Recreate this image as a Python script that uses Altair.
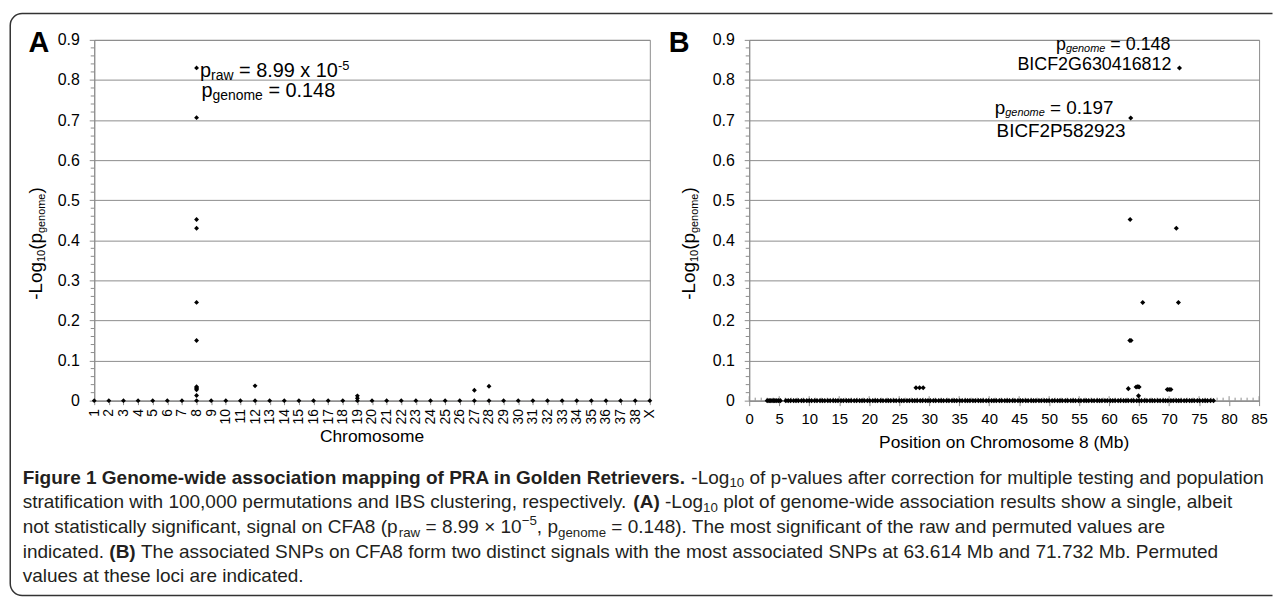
import altair as alt
import pandas as pd

# ---------------- data ----------------
CHROMOSOMES = ["1", "2", "3", "4", "5", "6", "7", "8", "9", "10", "11", "12", "13", "14", "15",
               "16", "17", "18", "19", "20", "21", "22", "23", "24", "25", "26", "27", "28", "29",
               "30", "31", "32", "33", "34", "35", "36", "37", "38", "X"]
A_ZERO_VAL = 0.0
A_HIT_CHR = ["8", "8", "8", "8", "8", "8", "8", "8", "8", "8", "8", "12", "19", "19", "27", "28"]
A_HIT_VAL = [0.830, 0.706, 0.452, 0.430, 0.245, 0.150, 0.035, 0.032, 0.030, 0.027, 0.013,
             0.037, 0.012, 0.006, 0.026, 0.036]

B_ZERO_POS = [3.0, 3.3, 3.5, 3.8, 4.1, 4.3, 4.6, 4.9, 5.2,
              6.1, 6.5, 6.9, 7.4, 7.8, 8.2, 8.7, 9.1, 9.6, 10.0, 10.4, 10.9, 11.3, 11.8, 12.2,
              12.6, 13.1, 13.5, 14.0, 14.4, 14.8, 15.3, 15.7, 16.2, 16.6, 17.0, 17.5, 17.9, 18.4,
              18.8, 19.2, 19.7, 20.1, 20.6, 21.0, 21.4, 21.9, 22.3, 22.8, 23.2, 23.6, 24.1, 24.5,
              25.0, 25.4, 25.8, 26.3, 26.7, 27.2, 27.6, 28.0, 28.5, 28.9, 29.4, 29.8, 30.2, 30.7,
              31.1, 31.6, 32.0, 32.4, 32.9, 33.3, 33.8, 34.2, 34.6, 35.1, 35.5, 36.0, 36.4, 36.8,
              37.3, 37.7, 38.2, 38.6, 39.0, 39.5, 39.9, 40.4, 40.8, 41.2, 41.7, 42.1, 42.6, 43.0,
              43.4, 43.9, 44.3, 44.8, 45.2, 45.6, 46.1, 46.5, 47.0, 47.4, 47.8, 48.3, 48.7, 49.2,
              49.6, 50.0, 50.5, 50.9, 51.4, 51.8, 52.2, 52.7, 53.1, 53.6, 54.0, 54.4, 54.9, 55.3,
              55.8, 56.2, 56.6, 57.1, 57.5, 58.0, 58.4, 58.8, 59.3, 59.7, 60.2, 60.6, 61.0, 61.5,
              61.9, 62.4, 62.8, 63.2, 63.7, 64.1, 64.6, 65.0, 65.4, 65.9, 66.3, 66.8, 67.2, 67.6,
              68.1, 68.5, 69.0, 69.4, 69.8, 70.3, 70.7, 71.2, 71.6, 72.0, 72.5, 72.9, 73.4, 73.8,
              74.2, 74.7, 75.1, 75.6, 76.0, 76.4, 76.9, 77.4]
B_ZERO_VAL = 0.0
B_HIT_POS = [27.8, 28.4, 29.0, 63.2, 63.45, 63.65, 63.5, 63.6, 64.5, 64.8, 65.0, 64.9, 65.6,
             69.7, 70.0, 70.3, 71.2, 71.55, 71.73]
B_HIT_VAL = [0.032, 0.032, 0.032, 0.030, 0.150, 0.150, 0.452, 0.705, 0.034, 0.035, 0.034, 0.012,
             0.245, 0.028, 0.028, 0.028, 0.430, 0.245, 0.830]

Y_MAJOR = [0, 0.1, 0.2, 0.3, 0.4, 0.5, 0.6, 0.7, 0.8, 0.9]
Y_MINOR = [0.02, 0.04, 0.06, 0.08, 0.12, 0.14, 0.16, 0.18, 0.22, 0.24, 0.26, 0.28, 0.32, 0.34,
           0.36, 0.38, 0.42, 0.44, 0.46, 0.48, 0.52, 0.54, 0.56, 0.58, 0.62, 0.64, 0.66, 0.68,
           0.72, 0.74, 0.76, 0.78, 0.82, 0.84, 0.86, 0.88]
B_X_MAJOR = [0, 5, 10, 15, 20, 25, 30, 35, 40, 45, 50, 55, 60, 65, 70, 75, 80, 85]
B_X_MINOR = [1, 2, 3, 4, 6, 7, 8, 9, 11, 12, 13, 14, 16, 17, 18, 19, 21, 22, 23, 24, 26, 27, 28,
             29, 31, 32, 33, 34, 36, 37, 38, 39, 41, 42, 43, 44, 46, 47, 48, 49, 51, 52, 53, 54,
             56, 57, 58, 59, 61, 62, 63, 64, 66, 67, 68, 69, 71, 72, 73, 74, 76, 77, 78, 79, 81,
             82, 83, 84]

A_ANNOT_ANCHOR = ("8", 0.830)
B_ANNOT1_ANCHOR = (71.73, 0.830)
B_ANNOT2_ANCHOR = (63.6, 0.705)
B_SNP1 = "BICF2G630416812"
B_SNP2 = "BICF2P582923"

# ---------------- layout (screen pixels of the reference) ----------------
FONT = "Liberation Sans"
GRAY = "#8c8c8c"
TXT = "#231f20"
A_LEFT, A_RIGHT, B_LEFT, B_RIGHT = 94, 653, 753, 1266
TOP, BOTTOM = 37.5, 400.5
A_W, B_W, H = A_RIGHT - A_LEFT, B_RIGHT - B_LEFT, BOTTOM - TOP
FRAME = dict(left=9.5, top=11, right=1279.5, bottom=596.5, r=12, sw=1.5)

# Arial / Liberation Sans advance widths (1/1000 em)
def _table(groups):
    d = {}
    for w, chars in groups.items():
        for c in chars:
            d[c] = w
    return d

W_REG = _table({222: "ijl'", 278: " !,./:;Ift[]\\", 333: "()-r`", 355: '"', 389: "*",
                500: "ckvsxyzJ^", 556: "0123456789abdeghnopquL#$_?", 584: "+<=>~\u00d7\u2212",
                611: "FTZ", 667: "ABEKPSVXY&", 722: "CDHNRUw", 778: "GOQ", 833: "Mm",
                889: "%", 944: "W", 1015: "@"})
W_BOLD = _table({238: "'", 278: " ,./Iijl\\", 333: "!()-:;ft[]`", 389: "r*", 500: "z",
                 556: "0123456789acekvsxyJ$#_", 584: "+<=>~\u00d7\u2212",
                 611: "bdghnopquFLTZ?", 667: "EPSVXY", 722: "ABCDHKNRU&", 778: "GOQw",
                 833: "M", 889: "m%", 944: "W", 975: "@"})


def twidth(s, size, bold=False):
    t = W_BOLD if bold else W_REG
    return sum(t.get(c, 556) for c in s) * size / 1000.0


def layout(segs):
    items, pos = [], 0.0
    for s in segs:
        t, size, bold = s["t"], s["size"], s.get("bold", False)
        lead = len(t) - len(t.lstrip(" "))
        core = t.strip(" ")
        if core:
            items.append({"t": core, "along": pos + twidth(" " * lead, size, bold),
                          "shift": s.get("shift", 0.0), "size": size, "bold": bold,
                          "italic": s.get("italic", False)})
        pos += twidth(t, size, bold)
    return items, pos


ONE = pd.DataFrame({"k": [0]})


def text_kw(it, color):
    kw = dict(text=it["t"], font=FONT, fontSize=it["size"], align="left",
              baseline="alphabetic", color=color)
    if it["bold"]:
        kw["fontWeight"] = "bold"
    if it["italic"]:
        kw["fontStyle"] = "italic"
    return kw


def pixel_text(segs, x0, y0, angle=0, color="black"):
    items, _ = layout(segs)
    out = []
    for it in items:
        kw = text_kw(it, color)
        if angle == 270:
            kw["angle"] = 270
            x, y = x0 + it["shift"], y0 - it["along"]
        else:
            x, y = x0 + it["along"], y0 + it["shift"]
        out.append(alt.Chart(ONE).mark_text(**kw).encode(x=alt.value(x), y=alt.value(y)))
    return out


def anchored_text(segs, df, xenc, yenc, dx0, dy0, right=False, color="black"):
    items, total = layout(segs)
    start = dx0 - total if right else dx0
    out = []
    for it in items:
        kw = text_kw(it, color)
        kw["dx"] = start + it["along"]
        kw["dy"] = dy0 + it["shift"]
        out.append(alt.Chart(df).mark_text(**kw).encode(x=xenc, y=yenc))
    return out


def seg(t, size, **kw):
    d = {"t": t, "size": size}
    d.update(kw)
    return d


# ---------------- shared encodings ----------------
y_scale = alt.Scale(domain=[0, 0.9], nice=False, zero=True)
y_axis = alt.Axis(values=Y_MAJOR, format=".1~f", grid=True, gridColor=GRAY, gridWidth=1,
                  tickSize=5, tickColor=GRAY, domainColor=GRAY, labelPadding=10,
                  labelFontSize=16, labelFont=FONT, labelColor="black", labelOverlap=False)
y_enc = alt.Y("val:Q", scale=y_scale, axis=y_axis, title=None)

x_a = alt.X("chr:O", scale=alt.Scale(domain=CHROMOSOMES, type="point", padding=0), title=None,
            axis=alt.Axis(labelAngle=270, labelAlign="right", labelBaseline="middle",
                          labelFontSize=14, labelFont=FONT, labelColor="black", tickSize=4,
                          tickColor=GRAY, domainColor=GRAY, labelPadding=4, grid=False,
                          labelOverlap=False))
x_b = alt.X("pos:Q", scale=alt.Scale(domain=[0, 85], nice=False, zero=True), title=None,
            axis=alt.Axis(values=B_X_MAJOR, format="d", tickSize=5, tickColor=GRAY,
                          domainColor=GRAY, labelPadding=6, labelFontSize=15, labelFont=FONT,
                          labelColor="black", grid=False, labelFlush=False, labelOverlap=False))

# ---------------- panel A ----------------
a_df = pd.DataFrame({"chr": CHROMOSOMES + A_HIT_CHR,
                     "val": [A_ZERO_VAL for _ in CHROMOSOMES] + A_HIT_VAL})
fw = FRAME["right"] - FRAME["left"]
fh = FRAME["bottom"] - FRAME["top"]
frame = alt.Chart(ONE).mark_rect(
    filled=False, stroke="#333333", strokeWidth=FRAME["sw"],
    cornerRadiusTopLeft=FRAME["r"], cornerRadiusBottomLeft=FRAME["r"],
    strokeDash=[fw - FRAME["r"], fh, 100000]
).encode(x=alt.value(FRAME["left"] - A_LEFT), x2=alt.value(FRAME["right"] - A_LEFT),
         y=alt.value(FRAME["top"] - TOP), y2=alt.value(FRAME["bottom"] - TOP))

a_minor = alt.Chart(pd.DataFrame({"val": Y_MINOR})).mark_rule(color=GRAY, strokeWidth=1).encode(
    y=y_enc, x=alt.value(-3.5), x2=alt.value(0))
a_points = alt.Chart(a_df).mark_point(shape="diamond", filled=True, size=24, color="black",
                                      opacity=1).encode(x=x_a, y=y_enc)

a_anchor = pd.DataFrame({"chr": [A_ANNOT_ANCHOR[0]], "val": [A_ANNOT_ANCHOR[1]]})
a_ann = anchored_text([seg("p", 20), seg("raw", 14, shift=2.5), seg(" = 8.99 x 10", 20),
                       seg("-5", 13, shift=-7)], a_anchor, x_a, y_enc, 3.5, 9.3)
a_ann += anchored_text([seg("p", 20), seg("genome", 14, shift=2.5), seg(" = 0.148", 20)],
                       a_anchor, x_a, y_enc, 5, 29.3)

title_segs = [seg("-Log", 19), seg("10", 11, shift=2.5), seg("(p", 19),
              seg("genome", 11, shift=2.5), seg(")", 19)]
a_ytitle = pixel_text(title_segs, 41.5 - A_LEFT, 299 - TOP, angle=270)
a_label = pixel_text([seg("A", 29, bold=True)], 28 - A_LEFT, 50 - TOP)
a_xtitle = alt.Chart(ONE).mark_text(text="Chromosome", font=FONT, fontSize=17.5, align="center",
                                    baseline="middle", color="black").encode(
    x=alt.value(A_W / 2), y=alt.value(437 - TOP))

# caption
CAP = [
    [seg("Figure 1 Genome-wide association mapping of PRA in Golden Retrievers.", 1, bold=True),
     seg(" -Log", 1), seg("10", 0.7, shift=0.2), seg(" of p-values after correction for multiple testing and population", 1)],
    [seg("stratification with 100,000 permutations and IBS clustering, respectively. ", 1),
     seg("(A)", 1, bold=True), seg(" -Log", 1), seg("10", 0.7, shift=0.2),
     seg(" plot of genome-wide association results show a single, albeit", 1)],
    [seg("not statistically significant, signal on CFA8 (p", 1), seg("raw", 0.7, shift=0.2),
     seg(" = 8.99 \u00d7 10", 1), seg("\u22125", 0.7, shift=-0.4), seg(", p", 1),
     seg("genome", 0.7, shift=0.2),
     seg(" = 0.148). The most significant of the raw and permuted values are", 1)],
    [seg("indicated. ", 1), seg("(B)", 1, bold=True),
     seg(" The associated SNPs on CFA8 form two distinct signals with the most associated SNPs at 63.614 Mb and 71.732 Mb. Permuted", 1)],
    [seg("values at these loci are indicated.", 1)],
]
_, w1 = layout(CAP[0])
CAP_SIZE = (1271 - 22) / w1
caption = []
for i, line in enumerate(CAP):
    scaled = [dict(s, size=s["size"] * CAP_SIZE, shift=s.get("shift", 0) * CAP_SIZE) for s in line]
    caption += pixel_text(scaled, 22 - A_LEFT, 484 + 24.8 * i - TOP, color=TXT)

chart_a = alt.layer(frame, a_minor, a_points, *a_ann, *a_ytitle, *a_label, a_xtitle,
                    *caption).properties(width=A_W, height=H)

# ---------------- panel B ----------------
b_df = pd.DataFrame({"pos": B_ZERO_POS + B_HIT_POS,
                     "val": [B_ZERO_VAL for _ in B_ZERO_POS] + B_HIT_VAL})
b_minor_y = alt.Chart(pd.DataFrame({"val": Y_MINOR})).mark_rule(color=GRAY, strokeWidth=1).encode(
    y=y_enc, x=alt.value(-3.5), x2=alt.value(0))
b_minor_x = alt.Chart(pd.DataFrame({"pos": B_X_MINOR})).mark_rule(color=GRAY, strokeWidth=1).encode(
    x=x_b, y=alt.value(H), y2=alt.value(H - 3))
b_major_x = alt.Chart(pd.DataFrame({"pos": B_X_MAJOR})).mark_rule(color=GRAY, strokeWidth=1).encode(
    x=x_b, y=alt.value(H), y2=alt.value(H - 4.5))
b_points = alt.Chart(b_df).mark_point(shape="diamond", filled=True, size=26, color="black",
                                      opacity=1).encode(x=x_b, y=y_enc)

b1 = pd.DataFrame({"pos": [B_ANNOT1_ANCHOR[0]], "val": [B_ANNOT1_ANCHOR[1]]})
b2 = pd.DataFrame({"pos": [B_ANNOT2_ANCHOR[0]], "val": [B_ANNOT2_ANCHOR[1]]})
b_ann = anchored_text([seg("p", 18), seg("genome", 11, shift=2.5, italic=True), seg(" = 0.148", 18)],
                      b1, x_b, y_enc, -9, -18.2, right=True)
b_ann += anchored_text([seg(B_SNP1, 18)], b1, x_b, y_enc, -8, 2.3, right=True)
b_ann += anchored_text([seg("p", 19), seg("genome", 11, shift=2.5, italic=True), seg(" = 0.197", 19)],
                       b2, x_b, y_enc, -136.8, -4.5)
b_ann += anchored_text([seg(B_SNP2, 19)], b2, x_b, y_enc, -135, 18.9)

b_ytitle = pixel_text(title_segs, 698.5 - B_LEFT, 299 - TOP, angle=270)
b_label = pixel_text([seg("B", 29, bold=True)], 672 - B_LEFT, 50 - TOP)
b_xtitle = alt.Chart(ONE).mark_text(text="Position on Chromosome 8 (Mb)", font=FONT, fontSize=17.5,
                                    align="center", baseline="middle", color="black").encode(
    x=alt.value(B_W / 2), y=alt.value(443 - TOP))

chart_b = alt.layer(b_minor_y, b_minor_x, b_major_x, b_points, *b_ann, *b_ytitle, *b_label,
                    b_xtitle).properties(width=B_W, height=H)

half = FRAME["sw"] / 2
chart = alt.hconcat(chart_a, chart_b, spacing=B_LEFT - A_RIGHT, bounds="flush").properties(
    padding={"left": FRAME["left"] - 8 - half, "top": FRAME["top"] - 8 - half, "right": 0, "bottom": 0},
    background="white"
).configure_view(stroke=GRAY, strokeWidth=1)

chart.save("out.html", embed_options={"renderer": "svg", "actions": False})
